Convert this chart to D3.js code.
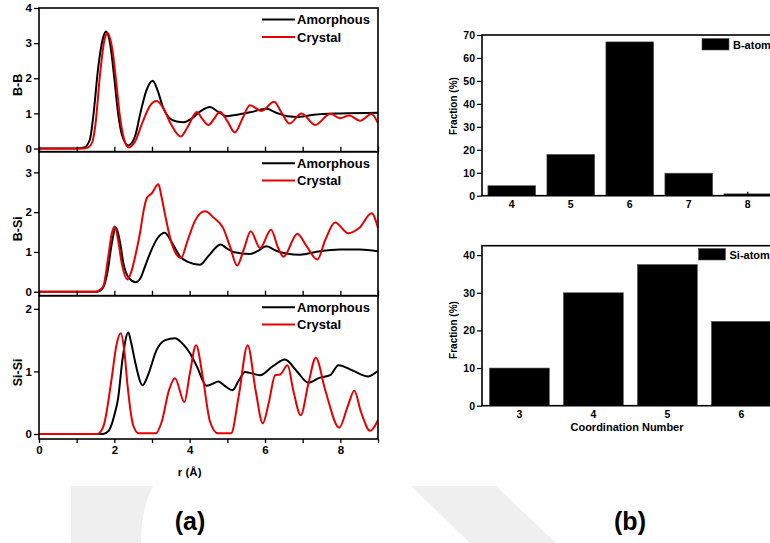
<!DOCTYPE html>
<html>
<head>
<meta charset="utf-8">
<script src="https://cdn.jsdelivr.net/npm/d3@7/dist/d3.min.js"></script>
<style>
  html, body { margin: 0; padding: 0; background: #fff; }
  svg { display: block; }
  text { font-family: Arial, "Liberation Sans", sans-serif; }
</style>
</head>
<body>
<svg id="fig" width="770" height="543"></svg>
<script>
// ---------- Pair distribution functions g(r), [r (Å), g] ----------
const bbAmorphous = [[0,0],[1.0,0],[1.2,0.03],[1.35,0.25],[1.44,0.91],[1.575,2.33],[1.7,3.15],[1.78,3.33],[1.9,2.9],[2.0,2.0],[2.1,1.0],[2.2,0.4],[2.37,0.09],[2.55,0.35],[2.7,1.05],[2.85,1.65],[3.02,1.93],[3.15,1.65],[3.3,1.15],[3.45,0.88],[3.65,0.77],[3.85,0.75],[4.05,0.85],[4.3,1.07],[4.54,1.18],[4.75,1.05],[4.98,0.92],[5.3,0.97],[5.6,1.03],[6.04,1.13],[6.3,1.02],[6.6,0.92],[6.9,0.9],[7.3,0.96],[8.0,1.0],[9,1.02]];
const bbCrystal = [[0,0],[1.15,0],[1.3,0.03],[1.42,0.2],[1.5,0.7],[1.62,2.1],[1.74,3.1],[1.82,3.28],[1.95,2.8],[2.05,1.9],[2.15,0.9],[2.25,0.3],[2.38,0.03],[2.55,0.2],[2.75,0.75],[2.95,1.22],[3.12,1.35],[3.3,1.15],[3.5,0.7],[3.76,0.34],[3.95,0.62],[4.19,1.04],[4.33,0.85],[4.5,0.67],[4.65,0.85],[4.8,1.05],[5.0,0.78],[5.2,0.46],[5.4,0.85],[5.6,1.23],[5.91,1.07],[6.24,1.33],[6.45,1.0],[6.65,0.71],[6.97,1.0],[7.33,0.67],[7.74,0.99],[7.99,0.86],[8.24,0.94],[8.52,0.79],[8.83,0.98],[9,0.72]];

const bsiAmorphous = [[0,0],[1.55,0],[1.7,0.1],[1.82,0.5],[1.93,1.2],[2.04,1.62],[2.15,1.25],[2.24,0.72],[2.4,0.33],[2.57,0.24],[2.7,0.35],[2.8,0.6],[2.95,0.97],[3.15,1.35],[3.34,1.48],[3.55,1.2],[3.74,0.89],[3.95,0.75],[4.27,0.68],[4.5,0.9],[4.82,1.19],[5.0,1.08],[5.16,1.0],[5.6,0.95],[5.8,1.02],[6.04,1.14],[6.3,1.03],[6.57,0.96],[6.93,0.93],[7.46,1.02],[7.99,1.06],[8.52,1.06],[9,1.02]];
const bsiCrystal = [[0,0],[1.5,0],[1.62,0.05],[1.71,0.14],[1.84,0.89],[1.93,1.45],[2.01,1.64],[2.1,1.3],[2.2,0.7],[2.35,0.31],[2.45,0.5],[2.58,1.0],[2.68,1.47],[2.78,2.05],[2.86,2.35],[2.99,2.47],[3.17,2.7],[3.25,2.4],[3.34,1.97],[3.52,1.22],[3.77,0.85],[3.95,1.3],[4.15,1.8],[4.41,2.02],[4.65,1.85],[4.89,1.6],[5.07,1.14],[5.26,0.66],[5.45,1.1],[5.62,1.52],[5.87,1.1],[6.16,1.56],[6.35,1.1],[6.49,0.88],[6.86,1.46],[7.1,1.15],[7.39,0.81],[7.6,1.3],[7.86,1.74],[8.21,1.47],[8.5,1.6],[8.83,1.97],[9,1.6]];

const sisiAmorphous = [[0,0],[1.7,0],[1.85,0.05],[2.0,0.3],[2.1,0.57],[2.22,1.21],[2.37,1.62],[2.45,1.45],[2.55,1.16],[2.75,0.78],[2.9,0.95],[3.12,1.34],[3.35,1.5],[3.61,1.53],[3.8,1.45],[4.01,1.29],[4.19,1.08],[4.45,0.77],[4.6,0.8],[4.76,0.84],[4.95,0.76],[5.14,0.7],[5.3,0.85],[5.47,0.99],[5.87,0.94],[6.2,1.08],[6.53,1.19],[6.85,1.0],[7.15,0.82],[7.46,0.9],[7.73,0.94],[7.95,1.1],[8.34,1.01],[8.74,0.92],[9,1.01]];
const sisiCrystal = [[0,0],[1.55,0],[1.71,0.12],[1.93,0.89],[2.05,1.4],[2.17,1.61],[2.27,1.3],[2.35,0.78],[2.5,0.14],[2.65,0.01],[3.1,0.01],[3.26,0.2],[3.45,0.7],[3.61,0.89],[3.86,0.51],[4.0,0.95],[4.17,1.42],[4.35,0.9],[4.54,0.2],[4.75,0.01],[5.1,0.01],[5.3,0.6],[5.54,1.42],[5.75,0.7],[5.94,0.17],[6.1,0.5],[6.27,0.94],[6.4,0.95],[6.6,1.1],[6.75,0.7],[6.95,0.3],[7.15,0.8],[7.35,1.22],[7.6,0.7],[7.97,0.1],[8.2,0.45],[8.37,0.69],[8.55,0.35],[8.79,0.05],[9,0.22]];

const pairNames = ["B-B", "B-Si", "Si-Si"];
const pairTicks = [[0,1,2,3,4],[0,1,2,3],[0,1,2]];
const pairMin = [-0.09, -0.1, -0.08];
const pairMax = [4, 3.52, 2.21];
const seriesNames = ["Amorphous", "Crystal"];
const rTicks = [0,1,2,3,4,5,6,7,8,9];
const rLabels = [0,2,4,6,8];

// ---------- Coordination number distributions (%) ----------
const bCoordination = ["4","5","6","7","8"];
const bFraction = [4.35, 18.0, 67.0, 9.8, 0.8];
const bFractionTicks = [0,10,20,30,40,50,60,70];
const siCoordination = ["3","4","5","6"];
const siFraction = [10.0, 30.0, 37.5, 22.4];
const siFractionTicks = [0,10,20,30,40];

// ---------- drawing ----------
const svg = d3.select("#fig");
const BLACK = "#000", RED = "#e60000";
const frameW = 1.6;

// faint background shapes
svg.append("path").attr("d", "M71,486 L153,486 C144,505 141,522 141,543 L71,543 Z").attr("fill", "#efefef");
svg.append("path").attr("d", "M411,486 L496,486 L556,543 L470,543 Z").attr("fill", "#efefef");

// (a) stacked g(r) panels
const x = d3.scaleLinear().domain([0, 9]).range([39, 378]);
const panelTops = [8, 151.7, 295.7, 439];
const colors = [BLACK, RED];
const allSeries = [[bbAmorphous, bbCrystal], [bsiAmorphous, bsiCrystal], [sisiAmorphous, sisiCrystal]];

pairNames.forEach((name, i) => {
  const top = panelTops[i], bottom = panelTops[i + 1];
  const y = d3.scaleLinear().domain([pairMin[i], pairMax[i]]).range([bottom, top]);
  const g = svg.append("g");

  const line = d3.line().x(d => x(d[0])).y(d => y(d[1])).curve(d3.curveMonotoneX);
  const clipId = "clip" + i;
  svg.append("clipPath").attr("id", clipId).append("rect")
    .attr("x", x(0)).attr("y", top).attr("width", x(9) - x(0)).attr("height", bottom - top);

  allSeries[i].forEach((s, k) => {
    g.append("path").datum(s).attr("d", line)
      .attr("fill", "none").attr("stroke", colors[k]).attr("stroke-width", 2)
      .attr("stroke-linejoin", "round")
      .attr("clip-path", `url(#${clipId})`);
  });

  // y axis
  const ya = g.append("g").attr("transform", `translate(${x(0)},0)`)
    .call(d3.axisLeft(y).tickValues(pairTicks[i]).tickSize(5).tickPadding(2).tickFormat(d3.format("d")));
  ya.select(".domain").remove();
  ya.selectAll(".tick line").attr("stroke-width", 1.3);
  ya.selectAll("text").attr("font-size", 11.5).attr("font-weight", "bold").attr("fill", "#000");

  // x axis ticks (labels only on the lowest panel)
  const last = i === pairNames.length - 1;
  const xa = g.append("g").attr("transform", `translate(0,${bottom})`)
    .call(d3.axisBottom(x).tickValues(rTicks).tickSize(last ? 4 : -5).tickPadding(3)
      .tickFormat(d => (last && rLabels.includes(d)) ? d : ""));
  xa.select(".domain").remove();
  xa.selectAll(".tick line").attr("stroke-width", 1.3);
  xa.selectAll("text").attr("font-size", 11.5).attr("font-weight", "bold").attr("fill", "#000");

  // frame
  g.append("rect").attr("x", x(0)).attr("y", top).attr("width", x(9) - x(0)).attr("height", bottom - top)
    .attr("fill", "none").attr("stroke", BLACK).attr("stroke-width", frameW);

  // y label
  g.append("text").attr("transform", `translate(22,${(top + bottom) / 2 + 5}) rotate(-90)`)
    .attr("text-anchor", "middle").attr("font-size", 12.5).attr("font-weight", "bold").text(name);

  // legend
  seriesNames.forEach((sn, k) => {
    const ly = top + 11.5 + k * 17.4;
    g.append("line").attr("x1", 262).attr("x2", 295).attr("y1", ly).attr("y2", ly)
      .attr("stroke", colors[k]).attr("stroke-width", 2);
    g.append("text").attr("x", 297).attr("y", ly + 4.6).attr("font-size", 13).attr("font-weight", "bold").text(sn);
  });
});

svg.append("text").attr("x", x(4)).attr("y", 476).attr("text-anchor", "middle")
  .attr("font-size", 11.5).attr("font-weight", "bold").text("r (Å)");

// (b) coordination number histograms
function histogram(cats, vals, ticks, yMax, top, bottom, step, labelY, legendText, legendBox, withTitle) {
  const g = svg.append("g");
  const xb = d3.scaleBand().domain(cats).range([482, 482 + step * (cats.length - 0.19 + 0.2)])
    .paddingInner(0.19).paddingOuter(0.1);
  const yb = d3.scaleLinear().domain([0, yMax]).range([bottom, top]);

  g.selectAll("rect.bar").data(vals).join("rect").attr("class", "bar")
    .attr("x", (d, j) => xb(cats[j])).attr("width", xb.bandwidth())
    .attr("y", d => yb(d)).attr("height", d => yb(0) - yb(d))
    .attr("fill", "#000").attr("stroke", "#555").attr("stroke-width", 0.6);

  const ya = g.append("g").attr("transform", "translate(482,0)")
    .call(d3.axisLeft(yb).tickValues(ticks).tickSize(5).tickPadding(2));
  ya.select(".domain").remove();
  ya.selectAll(".tick line").attr("stroke-width", 1.2);
  ya.selectAll("text").attr("font-size", 10.5).attr("font-weight", "bold").attr("fill", "#000");

  const xa = g.append("g").attr("transform", `translate(0,${bottom})`)
    .call(d3.axisBottom(xb).tickSize(-4).tickPadding(5));
  xa.select(".domain").remove();
  xa.selectAll(".tick line").attr("stroke-width", 1.2);
  xa.selectAll("text").attr("font-size", 10.5).attr("font-weight", "bold").attr("fill", "#000");

  g.append("rect").attr("x", 482).attr("y", top).attr("width", 320).attr("height", bottom - top)
    .attr("fill", "none").attr("stroke", BLACK).attr("stroke-width", frameW);

  g.append("text").attr("transform", `translate(457,${labelY}) rotate(-90)`)
    .attr("text-anchor", "middle").attr("font-size", 10).attr("font-weight", "bold").text("Fraction (%)");

  g.append("rect").attr("x", legendBox[0]).attr("y", legendBox[1]).attr("width", 27).attr("height", 11.5)
    .attr("fill", "#000").attr("stroke", "#555").attr("stroke-width", 0.6);
  g.append("text").attr("x", legendBox[0] + 31).attr("y", legendBox[1] + 10)
    .attr("font-size", 11).attr("font-weight", "bold").text(legendText);

  if (withTitle) {
    g.append("text").attr("x", 627).attr("y", bottom + 25).attr("text-anchor", "middle")
      .attr("font-size", 11).attr("font-weight", "bold").text("Coordination Number");
  }
}

histogram(bCoordination, bFraction, bFractionTicks, 70, 35, 195.7, 59, 106, "B-atom", [702, 38.5], false);
histogram(siCoordination, siFraction, siFractionTicks, 42.5, 245.7, 405.7, 74, 330, "Si-atom", [698.5, 248.5], true);

// panel letters
svg.append("text").attr("x", 190).attr("y", 530).attr("text-anchor", "middle")
  .attr("font-size", 25).attr("font-weight", "bold").text("(a)");
svg.append("text").attr("x", 630).attr("y", 530).attr("text-anchor", "middle")
  .attr("font-size", 25).attr("font-weight", "bold").text("(b)");
</script>
</body>
</html>
